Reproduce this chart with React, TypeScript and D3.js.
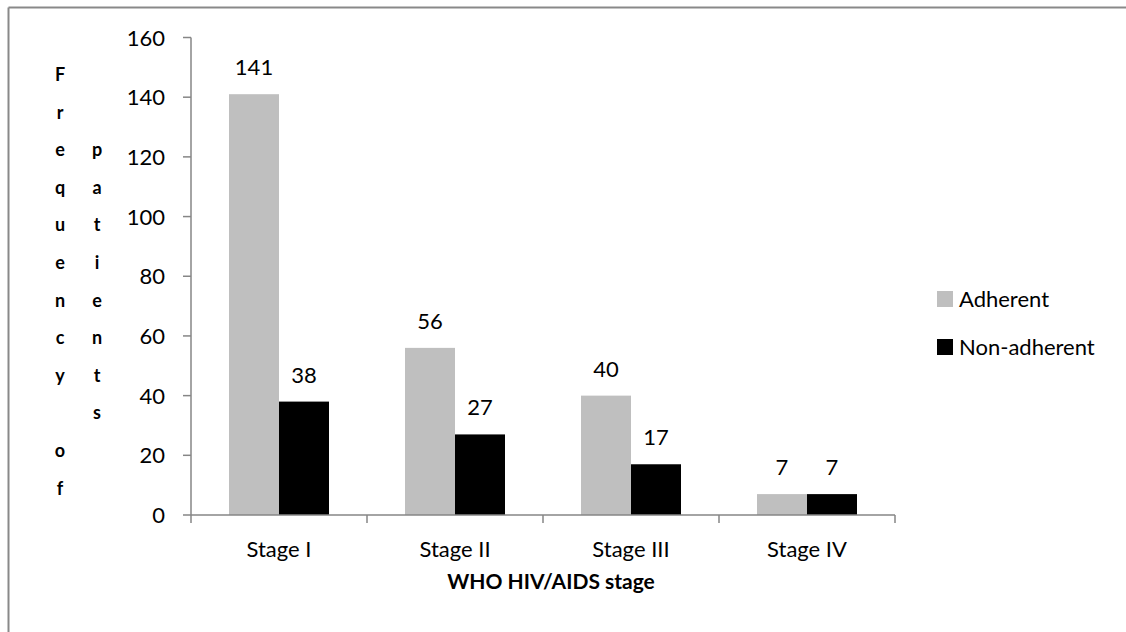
import React, { useEffect, useRef } from 'react';
import * as d3 from 'd3';

const stages = ['Stage I', 'Stage II', 'Stage III', 'Stage IV'];
const seriesNames = ['Adherent', 'Non-adherent'];
const adherent = [141, 56, 40, 7];
const nonAdherent = [38, 27, 17, 7];
const yTicks = [0, 20, 40, 60, 80, 100, 120, 140, 160];
const colors = ['#bfbfbf', '#000000'];

const col1 = ['F', 'r', 'e', 'q', 'u', 'e', 'n', 'c', 'y', '', 'o', 'f'];
const col2 = ['p', 'a', 't', 'i', 'e', 'n', 't', 's'];

const W = 1126;
const H = 632;
const FONT = 'Lato, "Open Sans", sans-serif';

const App: React.FC = () => {
  const svgRef = useRef<SVGSVGElement>(null);

  useEffect(() => {
    document.body.style.margin = '0';
    document.body.style.overflow = 'hidden';
    document.documentElement.style.overflow = 'hidden';
    if (!svgRef.current) return;
    const svg = d3.select(svgRef.current);
    svg.selectAll('*').remove();

    const left = 191, right = 895, top = 37.5, bottom = 515;
    const axisColor = '#868686';

    // outer chart border: only top and left edges fall inside the picture
    svg.append('line')
      .attr('x1', 8.5).attr('x2', W + 10).attr('y1', 7.5).attr('y2', 7.5)
      .attr('stroke', '#898989').attr('stroke-width', 2);
    svg.append('line')
      .attr('x1', 8.5).attr('x2', 8.5).attr('y1', 7.5).attr('y2', H + 10)
      .attr('stroke', '#898989').attr('stroke-width', 2);

    const x0 = d3.scaleBand().domain(stages).range([left, right]).padding(0);
    // 50px bars, 38px gap either side inside a 176px category
    const x1 = d3.scaleBand().domain(seriesNames).range([0, x0.bandwidth()]).paddingInner(0).paddingOuter(0.76);
    const y = d3.scaleLinear().domain([0, 160]).range([bottom, top]);

    const g = svg.append('g');

    // bars
    const data = stages.map((s, i) => ({ stage: s, values: [adherent[i], nonAdherent[i]] }));
    const groups = g.selectAll('.grp').data(data).enter().append('g')
      .attr('transform', d => `translate(${x0(d.stage)},0)`);

    groups.selectAll('rect')
      .data(d => d.values.map((v, j) => ({ key: seriesNames[j], v, j })))
      .enter().append('rect')
      .attr('x', d => x1(d.key) || 0)
      .attr('y', d => y(d.v))
      .attr('width', x1.bandwidth())
      .attr('height', d => bottom - y(d.v))
      .attr('fill', d => colors[d.j]);

    groups.selectAll('text')
      .data(d => d.values.map((v, j) => ({ key: seriesNames[j], v, j })))
      .enter().append('text')
      .attr('x', d => (x1(d.key) || 0) + x1.bandwidth() / 2)
      .attr('y', d => y(d.v) - 19)
      .attr('text-anchor', 'middle')
      .style('font-family', FONT)
      .style('font-size', '22px')
      .attr('fill', '#000')
      .text(d => d.v);

    // y axis
    const yAxis = g.append('g');
    yAxis.append('line')
      .attr('x1', left).attr('x2', left).attr('y1', top).attr('y2', bottom)
      .attr('stroke', axisColor).attr('stroke-width', 1.5);
    yAxis.selectAll('.yt').data(yTicks).enter().append('line')
      .attr('x1', left - 8).attr('x2', left)
      .attr('y1', d => y(d)).attr('y2', d => y(d))
      .attr('stroke', axisColor).attr('stroke-width', 1.5);
    yAxis.selectAll('.yl').data(yTicks).enter().append('text')
      .attr('x', 165)
      .attr('y', d => y(d) + 8)
      .attr('text-anchor', 'end')
      .style('font-family', FONT)
      .style('font-size', '22px')
      .text(d => d);

    // x axis
    const xAxis = g.append('g');
    xAxis.append('line')
      .attr('x1', left).attr('x2', right).attr('y1', bottom).attr('y2', bottom)
      .attr('stroke', axisColor).attr('stroke-width', 1.5);
    const bounds = [...stages.map(s => x0(s) || 0), right];
    xAxis.selectAll('.xt').data(bounds).enter().append('line')
      .attr('x1', d => d).attr('x2', d => d)
      .attr('y1', bottom).attr('y2', bottom + 8)
      .attr('stroke', axisColor).attr('stroke-width', 1.5);
    xAxis.selectAll('.xl').data(stages).enter().append('text')
      .attr('x', d => (x0(d) || 0) + x0.bandwidth() / 2)
      .attr('y', 557)
      .attr('text-anchor', 'middle')
      .style('font-family', FONT)
      .style('font-size', '22px')
      .text(d => d);

    // x axis title
    svg.append('text')
      .attr('x', 551)
      .attr('y', 589)
      .attr('text-anchor', 'middle')
      .style('font-family', FONT)
      .style('font-size', '21px')
      .style('font-weight', 'bold')
      .text('WHO HIV/AIDS stage');

    // y axis title, stacked letters in two columns
    const lineH = 37.6;
    const base = 81;
    svg.append('g').selectAll('text').data(col1).enter().append('text')
      .attr('x', 60).attr('y', (_, i) => base + i * lineH)
      .attr('text-anchor', 'middle')
      .style('font-family', FONT).style('font-size', '18px').style('font-weight', 'bold')
      .text(d => d);
    svg.append('g').selectAll('text').data(col2).enter().append('text')
      .attr('x', 97).attr('y', (_, i) => base + (i + 2) * lineH)
      .attr('text-anchor', 'middle')
      .style('font-family', FONT).style('font-size', '18px').style('font-weight', 'bold')
      .text(d => d);

    // legend
    const legend = svg.append('g').selectAll('g').data(seriesNames).enter().append('g')
      .attr('transform', (_, i) => `translate(937,${291 + i * 48})`);
    legend.append('rect').attr('width', 16).attr('height', 16).attr('fill', (_, i) => colors[i]);
    legend.append('text')
      .attr('x', 22).attr('y', 16)
      .style('font-family', FONT).style('font-size', '22px')
      .text(d => d);
  }, []);

  return (
    <svg
      ref={svgRef}
      width={W}
      height={H}
      style={{ position: 'fixed', left: 0, top: 0, background: 'white', display: 'block' }}
    />
  );
};

export default App;
